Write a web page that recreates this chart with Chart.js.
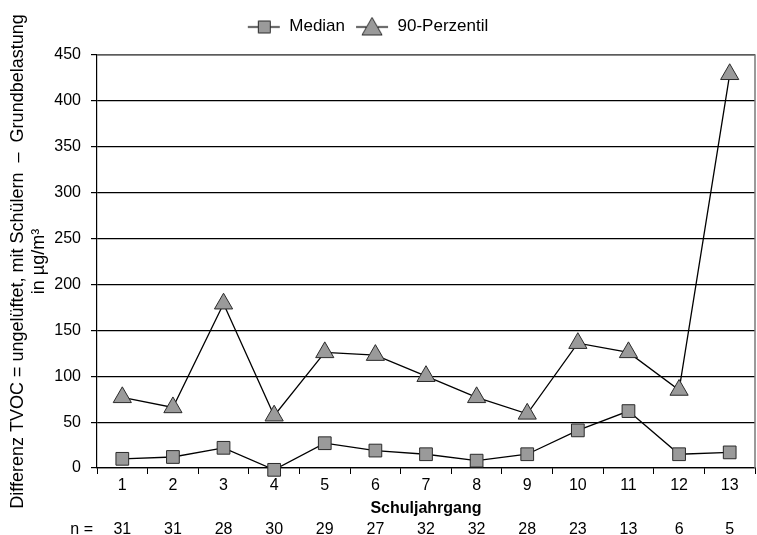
<!DOCTYPE html>
<html>
<head>
<meta charset="utf-8">
<script src="https://cdn.jsdelivr.net/npm/chart.js@4"></script>
<style>
  html, body { margin: 0; padding: 0; background: #fff; }
  #wrap { width: 757px; height: 535px; }
</style>
</head>
<body>
<div id="wrap"><canvas id="myChart" width="757" height="535"></canvas></div>
<script>
const categories = ['1', '2', '3', '4', '5', '6', '7', '8', '9', '10', '11', '12', '13']
const nValues = ['31', '31', '28', '30', '29', '27', '32', '32', '28', '23', '13', '6', '5']
const median = [10, 12, 22, -2, 27, 19, 15, 8, 15, 41, 62, 15, 17]
const perzentil90 = [77, 66, 179, 57, 126, 123, 100, 77, 59, 136, 126, 85, 429]
const yMin = 0, yMax = 450, yStep = 50

const FONT = "'Liberation Sans', Arial, sans-serif"
const markerFill = '#9a9a9a'
const markerLine = '#2a2a2a'

// kleine Bilder fuer die Legende: Linie + Marker
function legendIcon(style) {
  const c = document.createElement('canvas')
  c.width = 34
  c.height = 22
  const g = c.getContext('2d')
  g.strokeStyle = '#000'
  g.lineWidth = 1.3
  g.beginPath()
  g.moveTo(1, 11.5)
  g.lineTo(33, 11.5)
  g.stroke()
  g.fillStyle = markerFill
  g.strokeStyle = markerLine
  g.lineWidth = 1
  g.beginPath()
  if (style === 'rect') {
    g.rect(11.5, 5.5, 12, 12)
  } else {
    g.moveTo(17, 2)
    g.lineTo(27, 19.5)
    g.lineTo(7, 19.5)
    g.closePath()
  }
  g.fill()
  g.stroke()
  return c
}

const icons = [legendIcon('rect'), legendIcon('triangle')]

const ctx = document.getElementById('myChart').getContext('2d')

const framePlugin = {
  id: 'frame',
  afterLayout(chart) {
    // Legende etwas nach links wie im Original
    chart.legend.left -= 12
    chart.legend.right -= 12
  },
  beforeDatasetsDraw(chart) {
    const a = chart.chartArea
    const c = chart.ctx
    c.save()
    c.strokeStyle = '#7a7a7a'
    c.lineWidth = 1.5
    c.beginPath()
    c.moveTo(a.left, a.top)
    c.lineTo(a.right, a.top)
    c.lineTo(a.right, a.bottom)
    c.stroke()
    c.restore()
  },
  afterDraw(chart) {
    const s = chart.scales.xn
    const c = chart.ctx
    c.save()
    c.font = '16px ' + FONT
    c.fillStyle = '#000'
    c.textAlign = 'right'
    c.textBaseline = 'middle'
    c.fillText('n =', 93, s.top + 11.6)
    c.restore()
  }
}

new Chart(ctx, {
  type: 'line',
  data: {
    labels: categories,
    datasets: [{
      label: 'Median',
      data: median,
      borderColor: '#000',
      borderWidth: 1.3,
      pointStyle: 'rect',
      pointRadius: 9,
      pointBackgroundColor: markerFill,
      pointBorderColor: markerLine,
      pointBorderWidth: 1,
      clip: false,
      tension: 0
    }, {
      label: '90-Perzentil',
      data: perzentil90,
      borderColor: '#000',
      borderWidth: 1.3,
      pointStyle: 'triangle',
      pointRadius: 10.5,
      pointBackgroundColor: markerFill,
      pointBorderColor: markerLine,
      pointBorderWidth: 1,
      clip: false,
      tension: 0
    }]
  },
  options: {
    responsive: false,
    animation: false,
    layout: {
      autoPadding: false,
      padding: { left: 4, right: 2, top: 8, bottom: 0 }
    },
    plugins: {
      tooltip: { enabled: false },
      legend: {
        position: 'top',
        labels: {
          usePointStyle: true,
          pointStyleWidth: 34,
          color: '#000',
          font: { family: FONT, size: 17 },
          padding: 10,
          generateLabels: (chart) => chart.data.datasets.map((ds, i) => ({
            text: ds.label,
            pointStyle: icons[i],
            fillStyle: markerFill,
            strokeStyle: markerLine,
            lineWidth: 0,
            hidden: false,
            datasetIndex: i
          }))
        }
      }
    },
    scales: {
      y: {
        min: yMin,
        max: yMax,
        ticks: {
          stepSize: yStep,
          color: '#000',
          font: { family: FONT, size: 16 },
          padding: 10
        },
        grid: {
          color: '#000',
          lineWidth: 1.2,
          tickLength: 6
        },
        border: { color: '#000', width: 1.2 },
        title: {
          display: true,
          text: ['Differenz TVOC = ungelüftet, mit Schülern  \u2013  Grundbelastung', 'in µg/m³'],
          color: '#000',
          font: { family: FONT, size: 18 },
          padding: { top: 3, bottom: 0 }
        },
        afterFit(scale) { scale.width = 93 }
      },
      x: {
        weight: 0,
        offset: true,
        ticks: {
          color: '#000',
          font: { family: FONT, size: 16 },
          padding: 2
        },
        grid: {
          offset: true,
          drawOnChartArea: false,
          color: '#000',
          tickLength: 6
        },
        border: { color: '#000', width: 1.2 },
        title: {
          display: true,
          text: 'Schuljahrgang',
          color: '#000',
          font: { family: FONT, size: 16, weight: 'bold' },
          padding: { top: 0, bottom: 0 }
        },
        afterFit(scale) { scale.height = 50 }
      },
      xn: {
        type: 'category',
        labels: nValues,
        position: 'bottom',
        weight: 1,
        offset: true,
        ticks: {
          color: '#000',
          font: { family: FONT, size: 16 },
          padding: 2
        },
        grid: { display: false, drawTicks: false },
        border: { display: false },
        afterFit(scale) { scale.height = 17 }
      }
    }
  },

  // Platz zwischen Legende und Diagramm
  plugins: [framePlugin, {
    beforeInit(chart) {
      const fitValue = chart.legend.fit
      chart.legend.fit = function fit() {
        fitValue.bind(chart.legend)()
        return this.height += 10
      }
    }
  }]
})
</script>
</body>
</html>
